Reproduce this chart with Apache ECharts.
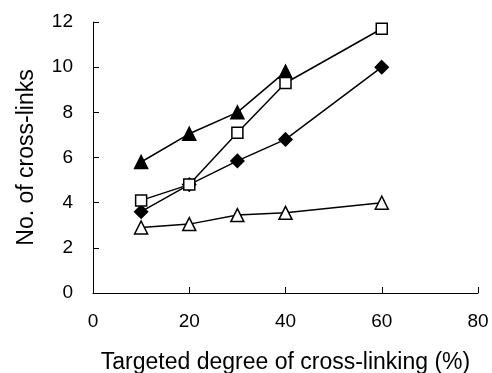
<!DOCTYPE html>
<html>
<head>
<meta charset="utf-8">
<script src="https://cdn.jsdelivr.net/npm/echarts@6/dist/echarts.min.js"></script>
<style>
  html, body { margin: 0; padding: 0; background: #fff; }
  #chart { width: 492px; height: 373px; }
</style>
</head>
<body>
<div id="chart"></div>
<script>
const xValues = [10, 20, 30, 40, 60];
const filledTriangles = [5.8, 7.05, 8.0, 9.8, null];
const openSquares = [4.1, 4.8, 7.1, 9.3, 11.7];
const filledDiamonds = [3.6, 4.8, 5.85, 6.8, 10.0];
const openTriangles = [2.9, 3.05, 3.45, 3.55, 4.0];

const pairs = (ys) => xValues.map((x, i) => [x, ys[i]]).filter((p) => p[1] != null);

const chart = echarts.init(document.getElementById("chart"));

const makeSeries = (name, ys, symbol, filled, size) => ({
  name: name,
  type: "line",
  data: pairs(ys),
  symbol: symbol,
  symbolSize: size,
  showAllSymbol: true,
  lineStyle: { color: "#000", width: 1.5 },
  itemStyle: {
    color: filled ? "#000" : "#fff",
    borderColor: "#000",
    borderWidth: 1.5,
  },
  z: filled ? 3 : 4,
});

const option = {
  animation: false,
  grid: { left: 93, right: 14, top: 22, bottom: 80, containLabel: false, outerBoundsMode: "none" },
  xAxis: {
    type: "value",
    min: 0,
    max: 80,
    interval: 20,
    name: "Targeted degree of cross-linking (%)",
    nameLocation: "middle",
    nameGap: 58,
    nameTextStyle: { fontFamily: "Liberation Sans", fontSize: 23, color: "#000" },
    axisLine: { lineStyle: { color: "#000", width: 1 } },
    axisTick: { inside: true, length: 6, lineStyle: { color: "#000" } },
    axisLabel: { fontFamily: "Liberation Sans", fontSize: 19, color: "#000", margin: 19 },
    splitLine: { show: false },
  },
  yAxis: {
    type: "value",
    min: 0,
    max: 12,
    interval: 2,
    name: "No. of cross-links",
    nameLocation: "middle",
    nameGap: 55,
    nameTextStyle: { fontFamily: "Liberation Sans", fontSize: 23, color: "#000" },
    axisLine: { show: true, lineStyle: { color: "#000", width: 1 } },
    axisTick: { show: true, inside: true, length: 6, lineStyle: { color: "#000" } },
    axisLabel: { fontFamily: "Liberation Sans", fontSize: 19, color: "#000", margin: 20 },
    splitLine: { show: false },
  },
  series: [
    makeSeries("filled triangles", filledTriangles, "triangle", true, 13),
    makeSeries("open squares", openSquares, "rect", false, 11),
    makeSeries("filled diamonds", filledDiamonds, "diamond", true, 13),
    makeSeries("open triangles", openTriangles, "triangle", false, 13),
  ],
};

chart.setOption(option);
</script>
</body>
</html>
